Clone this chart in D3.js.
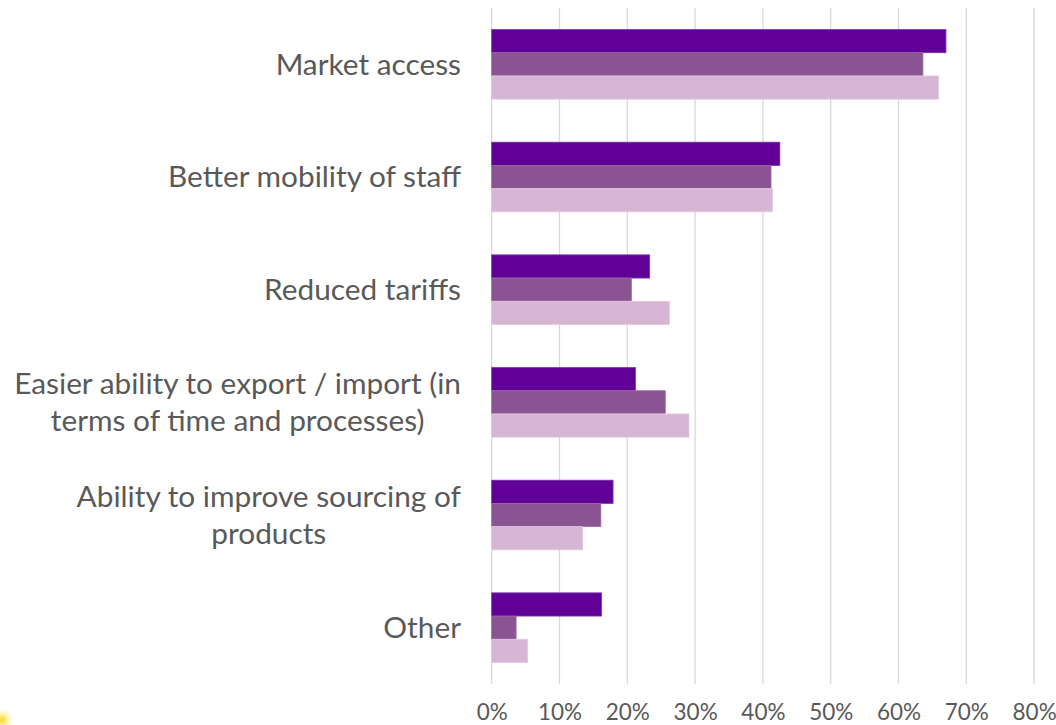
<!DOCTYPE html>
<html>
<head>
<meta charset="utf-8">
<script src="https://cdn.jsdelivr.net/npm/d3@7"></script>
<style>
  html, body { margin: 0; padding: 0; background: #ffffff; }
  svg { display: block; }
</style>
</head>
<body>
<svg id="chart" width="1056" height="725"></svg>
<script>
// Benefit categories (each entry holds its wrapped label lines)
const categories = [
  ["Market access"],
  ["Better mobility of staff"],
  ["Reduced tariffs"],
  ["Easier ability to export / import (in", "terms of time and processes)"],
  ["Ability to improve sourcing of", "products"],
  ["Other"]
];

// Three series of shares (%), one value per category
const seriesA = [67.0, 42.5, 23.3, 21.2, 17.9, 16.2];
const seriesB = [63.6, 41.2, 20.6, 25.6, 16.1, 3.6];
const seriesC = [65.9, 41.4, 26.2, 29.1, 13.4, 5.3];

const seriesColors = ["#600096", "#8a5391", "#d6b5d5"];
const seriesStroke = ["#7d33ad", "#9e6ca4", "#e2c9e1"];

const tickValues = [0, 10, 20, 30, 40, 50, 60, 70, 80];

const svg = d3.select("#chart");
const plot = { left: 491.7, right: 1034.1, top: 8, bottom: 684 };

// small yellow logo fragment in the lower-left corner
const defs = svg.append("defs");
const glow = defs.append("radialGradient").attr("id", "corner-glow");
glow.append("stop").attr("offset", "0%").attr("stop-color", "#f5d000").attr("stop-opacity", 0.9);
glow.append("stop").attr("offset", "100%").attr("stop-color", "#fff6a0").attr("stop-opacity", 0);
svg.append("circle").attr("cx", 2).attr("cy", 720).attr("r", 12).attr("fill", "url(#corner-glow)");

const x = d3.scaleLinear().domain([0, 80]).range([plot.left, plot.right]);
const catKeys = categories.map((c, i) => i);
const y = d3.scaleBand().domain(catKeys).range([plot.top, plot.bottom])
  .paddingInner(0.382).paddingOuter(0.191);
const sub = d3.scaleBand().domain([0, 1, 2]).range([0, y.bandwidth()]);

// vertical gridlines
svg.append("g")
  .selectAll("line")
  .data(tickValues)
  .join("line")
  .attr("x1", d => x(d)).attr("x2", d => x(d))
  .attr("y1", plot.top).attr("y2", plot.bottom)
  .attr("stroke", "#d9d9d9").attr("stroke-width", 1.3);

// x axis tick labels
const xAxis = d3.axisBottom(x).tickValues(tickValues).tickSize(0).tickPadding(0)
  .tickFormat(d => d + "%");
svg.append("g")
  .attr("transform", `translate(0, ${plot.bottom + 22})`)
  .call(xAxis)
  .call(g => g.select(".domain").remove())
  .call(g => g.selectAll("text")
    .attr("fill", "#595959")
    .attr("font-family", "Lato, 'Open Sans', sans-serif")
    .attr("font-size", 22.5)
    .attr("dy", "0.62em"));

// grouped bars
const series = [seriesA, seriesB, seriesC];
const groups = svg.append("g").selectAll("g")
  .data(catKeys)
  .join("g")
  .attr("transform", i => `translate(0, ${y(i)})`);

groups.selectAll("rect")
  .data(i => series.map((s, k) => ({ k, v: s[i] })))
  .join("rect")
  .attr("x", x(0))
  .attr("y", d => sub(d.k))
  .attr("width", d => x(d.v) - x(0))
  .attr("height", sub.bandwidth())
  .attr("fill", d => seriesColors[d.k])
  .attr("stroke", d => seriesStroke[d.k])
  .attr("stroke-width", 0.8);

// category labels, right-aligned beside the bars
const lineH = 37;
const labels = svg.append("g")
  .selectAll("text")
  .data(catKeys)
  .join("text")
  .attr("text-anchor", "middle")
  .attr("fill", "#595959")
  .attr("font-family", "Lato, 'Open Sans', sans-serif")
  .attr("font-size", 29.8);

labels.each(function (i) {
  const lines = categories[i];
  const cy = y(i) + y.bandwidth() / 2;
  const t = d3.select(this);
  lines.forEach((line, j) => {
    t.append("tspan")
      .attr("y", cy + (j - (lines.length - 1) / 2) * lineH)
      .attr("dy", "0.35em")
      .text(line);
  });
});

// multi-line labels are centred on their widest line, which ends at the axis gap
labels.each(function () {
  const t = d3.select(this);
  const spans = t.selectAll("tspan").nodes();
  const maxW = d3.max(spans, s => s.getComputedTextLength());
  spans.forEach(s => d3.select(s).attr("x", 461 - maxW / 2));
});
</script>
</body>
</html>
